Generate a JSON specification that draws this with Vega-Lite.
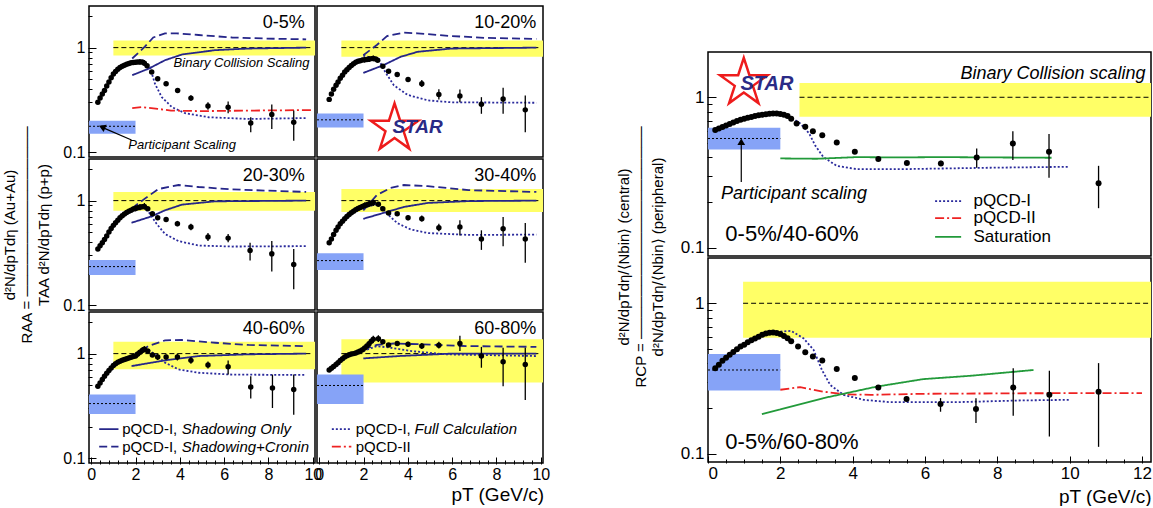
{
"$schema":"https://vega.github.io/schema/vega-lite/v6.json",
"background":"white",
"padding":{"left":2,"top":5,"right":0,"bottom":0},
"config":{"font":"Liberation Sans","view":{"stroke":"black","strokeWidth":1.5},"axis":{"grid":false,"domain":false,"tickColor":"black","labelColor":"black","titleColor":"black","labelOverlap":false,"titleFontWeight":"normal","tickWidth":1}},
"spacing":66,
"hconcat":[
{
"data":{"values":[
{"r":1,"c":1,"k":"Y","x":1,"x2":10.2,"y":0.84,"y2":1.17},
{"r":1,"c":1,"k":"U","x":1,"x2":10,"y":1},
{"r":1,"c":1,"k":"B","x":-0.1,"x2":2,"y":0.15,"y2":0.2},
{"r":1,"c":1,"k":"N","x":-0.1,"x2":2,"y":0.177},
{"r":1,"c":1,"k":"P","x":0.3,"y":0.3},{"r":1,"c":1,"k":"P","x":0.4,"y":0.33},{"r":1,"c":1,"k":"P","x":0.5,"y":0.36},{"r":1,"c":1,"k":"P","x":0.6,"y":0.39},{"r":1,"c":1,"k":"P","x":0.7,"y":0.43},{"r":1,"c":1,"k":"P","x":0.8,"y":0.47},{"r":1,"c":1,"k":"P","x":0.9,"y":0.515},{"r":1,"c":1,"k":"P","x":1.0,"y":0.56},{"r":1,"c":1,"k":"P","x":1.1,"y":0.59},{"r":1,"c":1,"k":"P","x":1.2,"y":0.62},{"r":1,"c":1,"k":"P","x":1.3,"y":0.645},{"r":1,"c":1,"k":"P","x":1.4,"y":0.665},{"r":1,"c":1,"k":"P","x":1.5,"y":0.68},{"r":1,"c":1,"k":"P","x":1.6,"y":0.695},{"r":1,"c":1,"k":"P","x":1.7,"y":0.705},{"r":1,"c":1,"k":"P","x":1.8,"y":0.715},{"r":1,"c":1,"k":"P","x":1.9,"y":0.72},{"r":1,"c":1,"k":"P","x":2.0,"y":0.725},{"r":1,"c":1,"k":"P","x":2.1,"y":0.73},{"r":1,"c":1,"k":"P","x":2.2,"y":0.73},{"r":1,"c":1,"k":"P","x":2.3,"y":0.73},{"r":1,"c":1,"k":"P","x":2.4,"y":0.71},{"r":1,"c":1,"k":"P","x":2.52,"y":0.67},{"r":1,"c":1,"k":"P","x":2.73,"y":0.585},{"r":1,"c":1,"k":"P","x":3.0,"y":0.505},{"r":1,"c":1,"k":"P","x":3.38,"y":0.452},{"r":1,"c":1,"k":"P","x":3.9,"y":0.39},{"r":1,"c":1,"k":"P","x":4.5,"y":0.329},{"r":1,"c":1,"k":"P","x":5.27,"y":0.276},{"r":1,"c":1,"k":"P","x":6.18,"y":0.269},{"r":1,"c":1,"k":"P","x":7.2,"y":0.19},{"r":1,"c":1,"k":"P","x":8.15,"y":0.229},{"r":1,"c":1,"k":"P","x":9.14,"y":0.193},
{"r":1,"c":1,"k":"E","x":2.0,"y":0.69,"y2":0.76},{"r":1,"c":1,"k":"E","x":2.2,"y":0.69,"y2":0.78},{"r":1,"c":1,"k":"E","x":2.4,"y":0.67,"y2":0.76},{"r":1,"c":1,"k":"E","x":3.38,"y":0.43,"y2":0.475},{"r":1,"c":1,"k":"E","x":3.9,"y":0.37,"y2":0.41},{"r":1,"c":1,"k":"E","x":4.5,"y":0.31,"y2":0.35},{"r":1,"c":1,"k":"E","x":5.27,"y":0.255,"y2":0.3},{"r":1,"c":1,"k":"E","x":6.18,"y":0.236,"y2":0.306},{"r":1,"c":1,"k":"E","x":7.2,"y":0.155,"y2":0.216},{"r":1,"c":1,"k":"E","x":8.15,"y":0.167,"y2":0.286},{"r":1,"c":1,"k":"E","x":9.14,"y":0.129,"y2":0.25},
{"r":1,"c":1,"k":"L","ln":"shad","s":"a","x":1.85,"y":0.545},{"r":1,"c":1,"k":"L","ln":"shad","s":"a","x":2.6,"y":0.63},{"r":1,"c":1,"k":"L","ln":"shad","s":"a","x":3.33,"y":0.758},{"r":1,"c":1,"k":"L","ln":"shad","s":"a","x":4.1,"y":0.86},{"r":1,"c":1,"k":"L","ln":"shad","s":"a","x":5.6,"y":0.946},{"r":1,"c":1,"k":"L","ln":"shad","s":"a","x":7.1,"y":0.98},{"r":1,"c":1,"k":"L","ln":"shad","s":"a","x":9.7,"y":1.0},
{"r":1,"c":1,"k":"L","ln":"cronin","s":"b","x":1.85,"y":0.787},{"r":1,"c":1,"k":"L","ln":"cronin","s":"b","x":2.42,"y":1.02},{"r":1,"c":1,"k":"L","ln":"cronin","s":"b","x":2.8,"y":1.25},{"r":1,"c":1,"k":"L","ln":"cronin","s":"b","x":3.33,"y":1.37},{"r":1,"c":1,"k":"L","ln":"cronin","s":"b","x":3.86,"y":1.37},{"r":1,"c":1,"k":"L","ln":"cronin","s":"b","x":4.85,"y":1.32},{"r":1,"c":1,"k":"L","ln":"cronin","s":"b","x":6.36,"y":1.25},{"r":1,"c":1,"k":"L","ln":"cronin","s":"b","x":7.9,"y":1.22},{"r":1,"c":1,"k":"L","ln":"cronin","s":"b","x":9.7,"y":1.2},
{"r":1,"c":1,"k":"L","ln":"full","s":"c","x":1.85,"y":0.705},{"r":1,"c":1,"k":"L","ln":"full","s":"c","x":2.42,"y":0.73},{"r":1,"c":1,"k":"L","ln":"full","s":"c","x":2.65,"y":0.65},{"r":1,"c":1,"k":"L","ln":"full","s":"c","x":2.88,"y":0.45},{"r":1,"c":1,"k":"L","ln":"full","s":"c","x":3.18,"y":0.337},{"r":1,"c":1,"k":"L","ln":"full","s":"c","x":3.64,"y":0.27},{"r":1,"c":1,"k":"L","ln":"full","s":"c","x":4.24,"y":0.236},{"r":1,"c":1,"k":"L","ln":"full","s":"c","x":5.3,"y":0.216},{"r":1,"c":1,"k":"L","ln":"full","s":"c","x":7.1,"y":0.208},{"r":1,"c":1,"k":"L","ln":"full","s":"c","x":9.7,"y":0.212},
{"r":1,"c":1,"k":"L","ln":"pqcd2","s":"d","x":1.85,"y":0.264},{"r":1,"c":1,"k":"L","ln":"pqcd2","s":"d","x":2.3,"y":0.27},{"r":1,"c":1,"k":"L","ln":"pqcd2","s":"d","x":3.0,"y":0.26},{"r":1,"c":1,"k":"L","ln":"pqcd2","s":"d","x":3.6,"y":0.25},{"r":1,"c":1,"k":"L","ln":"pqcd2","s":"d","x":5.0,"y":0.247},{"r":1,"c":1,"k":"L","ln":"pqcd2","s":"d","x":7.1,"y":0.25},{"r":1,"c":1,"k":"L","ln":"pqcd2","s":"d","x":10.0,"y":0.253},
{"r":1,"c":1,"k":"TC","x":9.64,"y":1.72,"t":"0-5%"},
{"r":1,"c":1,"k":"TIR","x":9.85,"y":0.705,"t":"Binary Collision Scaling"},
{"r":1,"c":1,"k":"TIC","x":4.1,"y":0.118,"t":"Participant Scaling"},
{"r":1,"c":1,"k":"A","x":1.82,"y":0.131,"x2":0.55,"y2":0.171},
{"r":1,"c":1,"k":"H","x":0.49,"y":0.174},

{"r":1,"c":2,"k":"Y","x":1,"x2":10.2,"y":0.82,"y2":1.17},
{"r":1,"c":2,"k":"U","x":1,"x2":10,"y":1},
{"r":1,"c":2,"k":"B","x":-0.1,"x2":2,"y":0.172,"y2":0.235},
{"r":1,"c":2,"k":"N","x":-0.1,"x2":2,"y":0.204},
{"r":1,"c":2,"k":"P","x":0.45,"y":0.32},{"r":1,"c":2,"k":"P","x":0.55,"y":0.36},{"r":1,"c":2,"k":"P","x":0.65,"y":0.4},{"r":1,"c":2,"k":"P","x":0.76,"y":0.436},{"r":1,"c":2,"k":"P","x":0.85,"y":0.47},{"r":1,"c":2,"k":"P","x":0.95,"y":0.51},{"r":1,"c":2,"k":"P","x":1.05,"y":0.545},{"r":1,"c":2,"k":"P","x":1.15,"y":0.585},{"r":1,"c":2,"k":"P","x":1.25,"y":0.615},{"r":1,"c":2,"k":"P","x":1.35,"y":0.645},{"r":1,"c":2,"k":"P","x":1.45,"y":0.675},{"r":1,"c":2,"k":"P","x":1.55,"y":0.7},{"r":1,"c":2,"k":"P","x":1.65,"y":0.725},{"r":1,"c":2,"k":"P","x":1.75,"y":0.74},{"r":1,"c":2,"k":"P","x":1.85,"y":0.75},{"r":1,"c":2,"k":"P","x":1.95,"y":0.76},{"r":1,"c":2,"k":"P","x":2.05,"y":0.765},{"r":1,"c":2,"k":"P","x":2.15,"y":0.77},{"r":1,"c":2,"k":"P","x":2.25,"y":0.775},{"r":1,"c":2,"k":"P","x":2.35,"y":0.785},{"r":1,"c":2,"k":"P","x":2.44,"y":0.787},{"r":1,"c":2,"k":"P","x":2.55,"y":0.78},{"r":1,"c":2,"k":"P","x":2.64,"y":0.758},{"r":1,"c":2,"k":"P","x":2.87,"y":0.664},{"r":1,"c":2,"k":"P","x":3.13,"y":0.594},{"r":1,"c":2,"k":"P","x":3.52,"y":0.552},{"r":1,"c":2,"k":"P","x":4.01,"y":0.495},{"r":1,"c":2,"k":"P","x":4.63,"y":0.452},{"r":1,"c":2,"k":"P","x":5.4,"y":0.357},{"r":1,"c":2,"k":"P","x":6.35,"y":0.344},{"r":1,"c":2,"k":"P","x":7.32,"y":0.287},{"r":1,"c":2,"k":"P","x":8.3,"y":0.322},{"r":1,"c":2,"k":"P","x":9.3,"y":0.254},
{"r":1,"c":2,"k":"E","x":2.05,"y":0.72,"y2":0.81},{"r":1,"c":2,"k":"E","x":2.25,"y":0.73,"y2":0.83},{"r":1,"c":2,"k":"E","x":2.44,"y":0.74,"y2":0.84},{"r":1,"c":2,"k":"E","x":4.01,"y":0.47,"y2":0.52},{"r":1,"c":2,"k":"E","x":4.63,"y":0.42,"y2":0.49},{"r":1,"c":2,"k":"E","x":5.4,"y":0.32,"y2":0.4},{"r":1,"c":2,"k":"E","x":6.35,"y":0.3,"y2":0.397},{"r":1,"c":2,"k":"E","x":7.32,"y":0.233,"y2":0.336},{"r":1,"c":2,"k":"E","x":8.3,"y":0.233,"y2":0.414},{"r":1,"c":2,"k":"E","x":9.3,"y":0.155,"y2":0.349},
{"r":1,"c":2,"k":"L","ln":"shad","s":"a","x":1.99,"y":0.573},{"r":1,"c":2,"k":"L","ln":"shad","s":"a","x":2.9,"y":0.68},{"r":1,"c":2,"k":"L","ln":"shad","s":"a","x":3.67,"y":0.816},{"r":1,"c":2,"k":"L","ln":"shad","s":"a","x":4.44,"y":0.912},{"r":1,"c":2,"k":"L","ln":"shad","s":"a","x":5.97,"y":0.98},{"r":1,"c":2,"k":"L","ln":"shad","s":"a","x":9.8,"y":1.0},
{"r":1,"c":2,"k":"L","ln":"cronin","s":"b","x":1.99,"y":0.847},{"r":1,"c":2,"k":"L","ln":"cronin","s":"b","x":2.6,"y":1.06},{"r":1,"c":2,"k":"L","ln":"cronin","s":"b","x":3.06,"y":1.29},{"r":1,"c":2,"k":"L","ln":"cronin","s":"b","x":3.82,"y":1.39},{"r":1,"c":2,"k":"L","ln":"cronin","s":"b","x":4.44,"y":1.37},{"r":1,"c":2,"k":"L","ln":"cronin","s":"b","x":5.97,"y":1.29},{"r":1,"c":2,"k":"L","ln":"cronin","s":"b","x":7.5,"y":1.24},{"r":1,"c":2,"k":"L","ln":"cronin","s":"b","x":9.8,"y":1.21},
{"r":1,"c":2,"k":"L","ln":"full","s":"c","x":1.99,"y":0.84},{"r":1,"c":2,"k":"L","ln":"full","s":"c","x":2.68,"y":0.77},{"r":1,"c":2,"k":"L","ln":"full","s":"c","x":2.98,"y":0.585},{"r":1,"c":2,"k":"L","ln":"full","s":"c","x":3.37,"y":0.436},{"r":1,"c":2,"k":"L","ln":"full","s":"c","x":3.98,"y":0.354},{"r":1,"c":2,"k":"L","ln":"full","s":"c","x":4.9,"y":0.313},{"r":1,"c":2,"k":"L","ln":"full","s":"c","x":5.97,"y":0.3},{"r":1,"c":2,"k":"L","ln":"full","s":"c","x":9.8,"y":0.297},
{"r":1,"c":2,"k":"TC","x":9.8,"y":1.72,"t":"10-20%"},
{"r":1,"c":2,"k":"S","x":3.4,"y":0.169},
{"r":1,"c":2,"k":"ST","x":4.44,"y":0.173,"t":"STAR"},

{"r":2,"c":1,"k":"Y","x":1,"x2":10.2,"y":0.8,"y2":1.21},
{"r":2,"c":1,"k":"U","x":1,"x2":10,"y":1},
{"r":2,"c":1,"k":"B","x":-0.1,"x2":2,"y":0.194,"y2":0.271},
{"r":2,"c":1,"k":"N","x":-0.1,"x2":2,"y":0.234},
{"r":2,"c":1,"k":"P","x":0.3,"y":0.345},{"r":2,"c":1,"k":"P","x":0.4,"y":0.37},{"r":2,"c":1,"k":"P","x":0.5,"y":0.395},{"r":2,"c":1,"k":"P","x":0.6,"y":0.425},{"r":2,"c":1,"k":"P","x":0.7,"y":0.46},{"r":2,"c":1,"k":"P","x":0.8,"y":0.5},{"r":2,"c":1,"k":"P","x":0.9,"y":0.54},{"r":2,"c":1,"k":"P","x":1.0,"y":0.58},{"r":2,"c":1,"k":"P","x":1.1,"y":0.615},{"r":2,"c":1,"k":"P","x":1.2,"y":0.65},{"r":2,"c":1,"k":"P","x":1.3,"y":0.685},{"r":2,"c":1,"k":"P","x":1.4,"y":0.715},{"r":2,"c":1,"k":"P","x":1.5,"y":0.745},{"r":2,"c":1,"k":"P","x":1.6,"y":0.77},{"r":2,"c":1,"k":"P","x":1.7,"y":0.79},{"r":2,"c":1,"k":"P","x":1.8,"y":0.81},{"r":2,"c":1,"k":"P","x":1.9,"y":0.83},{"r":2,"c":1,"k":"P","x":2.0,"y":0.84},{"r":2,"c":1,"k":"P","x":2.1,"y":0.855},{"r":2,"c":1,"k":"P","x":2.2,"y":0.865},{"r":2,"c":1,"k":"P","x":2.3,"y":0.875},{"r":2,"c":1,"k":"P","x":2.4,"y":0.88},{"r":2,"c":1,"k":"P","x":2.55,"y":0.838},{"r":2,"c":1,"k":"P","x":2.76,"y":0.75},{"r":2,"c":1,"k":"P","x":3.0,"y":0.686},{"r":2,"c":1,"k":"P","x":3.38,"y":0.66},{"r":2,"c":1,"k":"P","x":3.89,"y":0.6},{"r":2,"c":1,"k":"P","x":4.5,"y":0.56},{"r":2,"c":1,"k":"P","x":5.27,"y":0.448},{"r":2,"c":1,"k":"P","x":6.18,"y":0.438},{"r":2,"c":1,"k":"P","x":7.17,"y":0.333},{"r":2,"c":1,"k":"P","x":8.15,"y":0.31},{"r":2,"c":1,"k":"P","x":9.14,"y":0.245},
{"r":2,"c":1,"k":"E","x":2.0,"y":0.79,"y2":0.9},{"r":2,"c":1,"k":"E","x":2.2,"y":0.81,"y2":0.93},{"r":2,"c":1,"k":"E","x":2.4,"y":0.82,"y2":0.95},{"r":2,"c":1,"k":"E","x":3.38,"y":0.63,"y2":0.69},{"r":2,"c":1,"k":"E","x":3.89,"y":0.57,"y2":0.64},{"r":2,"c":1,"k":"E","x":4.5,"y":0.52,"y2":0.6},{"r":2,"c":1,"k":"E","x":5.27,"y":0.41,"y2":0.49},{"r":2,"c":1,"k":"E","x":6.18,"y":0.4,"y2":0.48},{"r":2,"c":1,"k":"E","x":7.17,"y":0.268,"y2":0.395},{"r":2,"c":1,"k":"E","x":8.15,"y":0.21,"y2":0.41},{"r":2,"c":1,"k":"E","x":9.14,"y":0.142,"y2":0.345},
{"r":2,"c":1,"k":"L","ln":"shad","s":"a","x":1.82,"y":0.614},{"r":2,"c":1,"k":"L","ln":"shad","s":"a","x":2.73,"y":0.708},{"r":2,"c":1,"k":"L","ln":"shad","s":"a","x":3.33,"y":0.808},{"r":2,"c":1,"k":"L","ln":"shad","s":"a","x":4.09,"y":0.915},{"r":2,"c":1,"k":"L","ln":"shad","s":"a","x":5.6,"y":0.985},{"r":2,"c":1,"k":"L","ln":"shad","s":"a","x":9.7,"y":1.0},
{"r":2,"c":1,"k":"L","ln":"cronin","s":"b","x":1.82,"y":0.838},{"r":2,"c":1,"k":"L","ln":"cronin","s":"b","x":2.42,"y":1.045},{"r":2,"c":1,"k":"L","ln":"cronin","s":"b","x":3.03,"y":1.29},{"r":2,"c":1,"k":"L","ln":"cronin","s":"b","x":3.94,"y":1.41},{"r":2,"c":1,"k":"L","ln":"cronin","s":"b","x":4.85,"y":1.35},{"r":2,"c":1,"k":"L","ln":"cronin","s":"b","x":6.36,"y":1.28},{"r":2,"c":1,"k":"L","ln":"cronin","s":"b","x":9.7,"y":1.21},
{"r":2,"c":1,"k":"L","ln":"full","s":"c","x":1.82,"y":0.85},{"r":2,"c":1,"k":"L","ln":"full","s":"c","x":2.35,"y":0.88},{"r":2,"c":1,"k":"L","ln":"full","s":"c","x":2.65,"y":0.75},{"r":2,"c":1,"k":"L","ln":"full","s":"c","x":2.95,"y":0.6},{"r":2,"c":1,"k":"L","ln":"full","s":"c","x":3.33,"y":0.48},{"r":2,"c":1,"k":"L","ln":"full","s":"c","x":3.94,"y":0.41},{"r":2,"c":1,"k":"L","ln":"full","s":"c","x":4.85,"y":0.372},{"r":2,"c":1,"k":"L","ln":"full","s":"c","x":6.36,"y":0.364},{"r":2,"c":1,"k":"L","ln":"full","s":"c","x":9.7,"y":0.367},
{"r":2,"c":1,"k":"TC","x":9.64,"y":1.72,"t":"20-30%"},

{"r":2,"c":2,"k":"Y","x":1,"x2":10.2,"y":0.78,"y2":1.29},
{"r":2,"c":2,"k":"U","x":1,"x2":10,"y":1},
{"r":2,"c":2,"k":"B","x":-0.1,"x2":2,"y":0.217,"y2":0.314},
{"r":2,"c":2,"k":"N","x":-0.1,"x2":2,"y":0.267},
{"r":2,"c":2,"k":"P","x":0.45,"y":0.395},{"r":2,"c":2,"k":"P","x":0.55,"y":0.43},{"r":2,"c":2,"k":"P","x":0.65,"y":0.475},{"r":2,"c":2,"k":"P","x":0.76,"y":0.52},{"r":2,"c":2,"k":"P","x":0.85,"y":0.56},{"r":2,"c":2,"k":"P","x":0.95,"y":0.6},{"r":2,"c":2,"k":"P","x":1.05,"y":0.635},{"r":2,"c":2,"k":"P","x":1.15,"y":0.67},{"r":2,"c":2,"k":"P","x":1.25,"y":0.705},{"r":2,"c":2,"k":"P","x":1.35,"y":0.735},{"r":2,"c":2,"k":"P","x":1.45,"y":0.765},{"r":2,"c":2,"k":"P","x":1.55,"y":0.79},{"r":2,"c":2,"k":"P","x":1.65,"y":0.82},{"r":2,"c":2,"k":"P","x":1.75,"y":0.84},{"r":2,"c":2,"k":"P","x":1.85,"y":0.86},{"r":2,"c":2,"k":"P","x":1.95,"y":0.88},{"r":2,"c":2,"k":"P","x":2.05,"y":0.9},{"r":2,"c":2,"k":"P","x":2.15,"y":0.915},{"r":2,"c":2,"k":"P","x":2.25,"y":0.93},{"r":2,"c":2,"k":"P","x":2.35,"y":0.945},{"r":2,"c":2,"k":"P","x":2.44,"y":0.957},{"r":2,"c":2,"k":"P","x":2.67,"y":0.923},{"r":2,"c":2,"k":"P","x":2.87,"y":0.838},{"r":2,"c":2,"k":"P","x":3.13,"y":0.76},{"r":2,"c":2,"k":"P","x":3.52,"y":0.75},{"r":2,"c":2,"k":"P","x":4.01,"y":0.686},{"r":2,"c":2,"k":"P","x":4.63,"y":0.67},{"r":2,"c":2,"k":"P","x":5.4,"y":0.55},{"r":2,"c":2,"k":"P","x":6.35,"y":0.56},{"r":2,"c":2,"k":"P","x":7.32,"y":0.43},{"r":2,"c":2,"k":"P","x":8.3,"y":0.538},{"r":2,"c":2,"k":"P","x":9.3,"y":0.43},
{"r":2,"c":2,"k":"E","x":2.05,"y":0.85,"y2":0.96},{"r":2,"c":2,"k":"E","x":2.25,"y":0.87,"y2":1.0},{"r":2,"c":2,"k":"E","x":2.44,"y":0.89,"y2":1.02},{"r":2,"c":2,"k":"E","x":4.01,"y":0.65,"y2":0.72},{"r":2,"c":2,"k":"E","x":4.63,"y":0.63,"y2":0.72},{"r":2,"c":2,"k":"E","x":5.4,"y":0.51,"y2":0.6},{"r":2,"c":2,"k":"E","x":6.35,"y":0.465,"y2":0.648},{"r":2,"c":2,"k":"E","x":7.32,"y":0.338,"y2":0.52},{"r":2,"c":2,"k":"E","x":8.3,"y":0.367,"y2":0.697},{"r":2,"c":2,"k":"E","x":9.3,"y":0.254,"y2":0.61},
{"r":2,"c":2,"k":"L","ln":"shad","s":"a","x":1.99,"y":0.67},{"r":2,"c":2,"k":"L","ln":"shad","s":"a","x":3.06,"y":0.78},{"r":2,"c":2,"k":"L","ln":"shad","s":"a","x":3.82,"y":0.87},{"r":2,"c":2,"k":"L","ln":"shad","s":"a","x":4.9,"y":0.95},{"r":2,"c":2,"k":"L","ln":"shad","s":"a","x":6.74,"y":0.99},{"r":2,"c":2,"k":"L","ln":"shad","s":"a","x":9.8,"y":1.0},
{"r":2,"c":2,"k":"L","ln":"cronin","s":"b","x":1.99,"y":0.808},{"r":2,"c":2,"k":"L","ln":"cronin","s":"b","x":2.6,"y":1.13},{"r":2,"c":2,"k":"L","ln":"cronin","s":"b","x":3.21,"y":1.32},{"r":2,"c":2,"k":"L","ln":"cronin","s":"b","x":3.82,"y":1.41},{"r":2,"c":2,"k":"L","ln":"cronin","s":"b","x":4.9,"y":1.375},{"r":2,"c":2,"k":"L","ln":"cronin","s":"b","x":6.74,"y":1.26},{"r":2,"c":2,"k":"L","ln":"cronin","s":"b","x":9.8,"y":1.21},
{"r":2,"c":2,"k":"L","ln":"full","s":"c","x":2.14,"y":0.87},{"r":2,"c":2,"k":"L","ln":"full","s":"c","x":2.67,"y":0.935},{"r":2,"c":2,"k":"L","ln":"full","s":"c","x":3.06,"y":0.75},{"r":2,"c":2,"k":"L","ln":"full","s":"c","x":3.52,"y":0.61},{"r":2,"c":2,"k":"L","ln":"full","s":"c","x":4.13,"y":0.53},{"r":2,"c":2,"k":"L","ln":"full","s":"c","x":4.9,"y":0.49},{"r":2,"c":2,"k":"L","ln":"full","s":"c","x":6.74,"y":0.47},{"r":2,"c":2,"k":"L","ln":"full","s":"c","x":9.8,"y":0.473},
{"r":2,"c":2,"k":"TC","x":9.8,"y":1.72,"t":"30-40%"},

{"r":3,"c":1,"k":"Y","x":1,"x2":10.2,"y":0.71,"y2":1.3},
{"r":3,"c":1,"k":"U","x":1,"x2":10,"y":1},
{"r":3,"c":1,"k":"B","x":-0.1,"x2":2,"y":0.265,"y2":0.406},
{"r":3,"c":1,"k":"N","x":-0.1,"x2":2,"y":0.333},
{"r":3,"c":1,"k":"P","x":0.3,"y":0.488},{"r":3,"c":1,"k":"P","x":0.4,"y":0.525},{"r":3,"c":1,"k":"P","x":0.5,"y":0.565},{"r":3,"c":1,"k":"P","x":0.6,"y":0.609},{"r":3,"c":1,"k":"P","x":0.7,"y":0.65},{"r":3,"c":1,"k":"P","x":0.8,"y":0.69},{"r":3,"c":1,"k":"P","x":0.9,"y":0.73},{"r":3,"c":1,"k":"P","x":1.0,"y":0.77},{"r":3,"c":1,"k":"P","x":1.1,"y":0.8},{"r":3,"c":1,"k":"P","x":1.2,"y":0.825},{"r":3,"c":1,"k":"P","x":1.3,"y":0.845},{"r":3,"c":1,"k":"P","x":1.4,"y":0.865},{"r":3,"c":1,"k":"P","x":1.5,"y":0.88},{"r":3,"c":1,"k":"P","x":1.6,"y":0.895},{"r":3,"c":1,"k":"P","x":1.7,"y":0.91},{"r":3,"c":1,"k":"P","x":1.8,"y":0.925},{"r":3,"c":1,"k":"P","x":1.9,"y":0.94},{"r":3,"c":1,"k":"P","x":2.0,"y":0.95},{"r":3,"c":1,"k":"P","x":2.1,"y":0.99},{"r":3,"c":1,"k":"P","x":2.2,"y":1.03},{"r":3,"c":1,"k":"P","x":2.3,"y":1.07},{"r":3,"c":1,"k":"P","x":2.4,"y":1.1},{"r":3,"c":1,"k":"P","x":2.55,"y":1.06},{"r":3,"c":1,"k":"P","x":2.76,"y":0.97},{"r":3,"c":1,"k":"P","x":3.0,"y":0.927},{"r":3,"c":1,"k":"P","x":3.38,"y":0.927},{"r":3,"c":1,"k":"P","x":3.89,"y":0.927},{"r":3,"c":1,"k":"P","x":4.5,"y":0.862},{"r":3,"c":1,"k":"P","x":5.27,"y":0.777},{"r":3,"c":1,"k":"P","x":6.18,"y":0.75},{"r":3,"c":1,"k":"P","x":7.2,"y":0.48},{"r":3,"c":1,"k":"P","x":8.18,"y":0.47},{"r":3,"c":1,"k":"P","x":9.14,"y":0.454},
{"r":3,"c":1,"k":"E","x":2.1,"y":0.93,"y2":1.05},{"r":3,"c":1,"k":"E","x":2.3,"y":1.0,"y2":1.15},{"r":3,"c":1,"k":"E","x":2.4,"y":1.03,"y2":1.18},{"r":3,"c":1,"k":"E","x":3.0,"y":0.87,"y2":0.99},{"r":3,"c":1,"k":"E","x":3.38,"y":0.88,"y2":0.98},{"r":3,"c":1,"k":"E","x":3.89,"y":0.86,"y2":1.0},{"r":3,"c":1,"k":"E","x":4.5,"y":0.8,"y2":0.93},{"r":3,"c":1,"k":"E","x":5.27,"y":0.72,"y2":0.84},{"r":3,"c":1,"k":"E","x":6.18,"y":0.63,"y2":0.86},{"r":3,"c":1,"k":"E","x":7.2,"y":0.372,"y2":0.609},{"r":3,"c":1,"k":"E","x":8.18,"y":0.302,"y2":0.63},{"r":3,"c":1,"k":"E","x":9.14,"y":0.26,"y2":0.63},
{"r":3,"c":1,"k":"L","ln":"shad","s":"a","x":1.82,"y":0.76},{"r":3,"c":1,"k":"L","ln":"shad","s":"a","x":3.33,"y":0.862},{"r":3,"c":1,"k":"L","ln":"shad","s":"a","x":4.85,"y":0.948},{"r":3,"c":1,"k":"L","ln":"shad","s":"a","x":7.1,"y":0.985},{"r":3,"c":1,"k":"L","ln":"shad","s":"a","x":9.7,"y":1.0},
{"r":3,"c":1,"k":"L","ln":"cronin","s":"b","x":1.82,"y":0.915},{"r":3,"c":1,"k":"L","ln":"cronin","s":"b","x":2.58,"y":1.18},{"r":3,"c":1,"k":"L","ln":"cronin","s":"b","x":3.33,"y":1.34},{"r":3,"c":1,"k":"L","ln":"cronin","s":"b","x":4.09,"y":1.35},{"r":3,"c":1,"k":"L","ln":"cronin","s":"b","x":5.6,"y":1.27},{"r":3,"c":1,"k":"L","ln":"cronin","s":"b","x":7.1,"y":1.21},{"r":3,"c":1,"k":"L","ln":"cronin","s":"b","x":9.7,"y":1.18},
{"r":3,"c":1,"k":"L","ln":"full","s":"c","x":1.82,"y":0.95},{"r":3,"c":1,"k":"L","ln":"full","s":"c","x":2.42,"y":1.14},{"r":3,"c":1,"k":"L","ln":"full","s":"c","x":2.88,"y":0.985},{"r":3,"c":1,"k":"L","ln":"full","s":"c","x":3.33,"y":0.82},{"r":3,"c":1,"k":"L","ln":"full","s":"c","x":3.94,"y":0.706},{"r":3,"c":1,"k":"L","ln":"full","s":"c","x":4.85,"y":0.656},{"r":3,"c":1,"k":"L","ln":"full","s":"c","x":6.36,"y":0.63},{"r":3,"c":1,"k":"L","ln":"full","s":"c","x":9.7,"y":0.625},
{"r":3,"c":1,"k":"L","ln":"shad","s":"la","x":0.36,"y":0.19},{"r":3,"c":1,"k":"L","ln":"shad","s":"la","x":1.23,"y":0.19},
{"r":3,"c":1,"k":"L","ln":"cronin","s":"lb","x":0.36,"y":0.129},{"r":3,"c":1,"k":"L","ln":"cronin","s":"lb","x":1.23,"y":0.129},
{"r":3,"c":1,"k":"TC","x":9.64,"y":1.71,"t":"40-60%"},
{"r":3,"c":1,"k":"TL","x":1.4,"y":0.19,"t":"pQCD-I,"},
{"r":3,"c":1,"k":"TLI","x":4.09,"y":0.19,"t":"Shadowing Only"},
{"r":3,"c":1,"k":"TL","x":1.4,"y":0.129,"t":"pQCD-I,"},
{"r":3,"c":1,"k":"TLI","x":4.09,"y":0.129,"t":"Shadowing+Cronin"},

{"r":3,"c":2,"k":"Y","x":1,"x2":10.2,"y":0.53,"y2":1.37},
{"r":3,"c":2,"k":"U","x":1,"x2":10,"y":1},
{"r":3,"c":2,"k":"B","x":-0.1,"x2":2,"y":0.33,"y2":0.632},
{"r":3,"c":2,"k":"N","x":-0.1,"x2":2,"y":0.496},
{"r":3,"c":2,"k":"P","x":0.45,"y":0.696},{"r":3,"c":2,"k":"P","x":0.55,"y":0.725},{"r":3,"c":2,"k":"P","x":0.65,"y":0.755},{"r":3,"c":2,"k":"P","x":0.76,"y":0.789},{"r":3,"c":2,"k":"P","x":0.85,"y":0.82},{"r":3,"c":2,"k":"P","x":0.95,"y":0.86},{"r":3,"c":2,"k":"P","x":1.05,"y":0.895},{"r":3,"c":2,"k":"P","x":1.15,"y":0.93},{"r":3,"c":2,"k":"P","x":1.25,"y":0.955},{"r":3,"c":2,"k":"P","x":1.35,"y":0.975},{"r":3,"c":2,"k":"P","x":1.45,"y":0.99},{"r":3,"c":2,"k":"P","x":1.55,"y":1.0},{"r":3,"c":2,"k":"P","x":1.65,"y":1.015},{"r":3,"c":2,"k":"P","x":1.75,"y":1.035},{"r":3,"c":2,"k":"P","x":1.85,"y":1.06},{"r":3,"c":2,"k":"P","x":1.95,"y":1.09},{"r":3,"c":2,"k":"P","x":2.05,"y":1.13},{"r":3,"c":2,"k":"P","x":2.15,"y":1.18},{"r":3,"c":2,"k":"P","x":2.25,"y":1.24},{"r":3,"c":2,"k":"P","x":2.35,"y":1.31},{"r":3,"c":2,"k":"P","x":2.44,"y":1.37},{"r":3,"c":2,"k":"P","x":2.67,"y":1.39},{"r":3,"c":2,"k":"P","x":2.87,"y":1.3},{"r":3,"c":2,"k":"P","x":3.13,"y":1.21},{"r":3,"c":2,"k":"P","x":3.52,"y":1.25},{"r":3,"c":2,"k":"P","x":4.01,"y":1.23},{"r":3,"c":2,"k":"P","x":4.63,"y":1.18},{"r":3,"c":2,"k":"P","x":5.4,"y":1.2},{"r":3,"c":2,"k":"P","x":6.35,"y":1.25},{"r":3,"c":2,"k":"P","x":7.32,"y":0.95},{"r":3,"c":2,"k":"P","x":8.3,"y":0.838},{"r":3,"c":2,"k":"P","x":9.3,"y":0.789},
{"r":3,"c":2,"k":"E","x":2.25,"y":1.16,"y2":1.32},{"r":3,"c":2,"k":"E","x":2.44,"y":1.27,"y2":1.48},{"r":3,"c":2,"k":"E","x":2.67,"y":1.29,"y2":1.5},{"r":3,"c":2,"k":"E","x":3.52,"y":1.19,"y2":1.31},{"r":3,"c":2,"k":"E","x":4.01,"y":1.16,"y2":1.3},{"r":3,"c":2,"k":"E","x":4.63,"y":1.11,"y2":1.26},{"r":3,"c":2,"k":"E","x":5.4,"y":1.12,"y2":1.3},{"r":3,"c":2,"k":"E","x":6.35,"y":1.06,"y2":1.48},{"r":3,"c":2,"k":"E","x":7.32,"y":0.733,"y2":1.16},{"r":3,"c":2,"k":"E","x":8.3,"y":0.488,"y2":1.14},{"r":3,"c":2,"k":"E","x":9.3,"y":0.36,"y2":1.14},
{"r":3,"c":2,"k":"L","ln":"shad","s":"a","x":1.99,"y":0.9},{"r":3,"c":2,"k":"L","ln":"shad","s":"a","x":3.67,"y":0.95},{"r":3,"c":2,"k":"L","ln":"shad","s":"a","x":5.97,"y":1.0},{"r":3,"c":2,"k":"L","ln":"shad","s":"a","x":9.8,"y":1.0},
{"r":3,"c":2,"k":"L","ln":"cronin","s":"b","x":1.99,"y":1.1},{"r":3,"c":2,"k":"L","ln":"cronin","s":"b","x":2.6,"y":1.21},{"r":3,"c":2,"k":"L","ln":"cronin","s":"b","x":3.37,"y":1.25},{"r":3,"c":2,"k":"L","ln":"cronin","s":"b","x":4.44,"y":1.23},{"r":3,"c":2,"k":"L","ln":"cronin","s":"b","x":6.74,"y":1.18},{"r":3,"c":2,"k":"L","ln":"cronin","s":"b","x":9.8,"y":1.16},
{"r":3,"c":2,"k":"L","ln":"full","s":"c","x":1.99,"y":1.06},{"r":3,"c":2,"k":"L","ln":"full","s":"c","x":2.6,"y":1.18},{"r":3,"c":2,"k":"L","ln":"full","s":"c","x":3.21,"y":1.14},{"r":3,"c":2,"k":"L","ln":"full","s":"c","x":4.13,"y":1.06},{"r":3,"c":2,"k":"L","ln":"full","s":"c","x":5.67,"y":0.985},{"r":3,"c":2,"k":"L","ln":"full","s":"c","x":9.8,"y":0.948},
{"r":3,"c":2,"k":"L","ln":"full","s":"lc","x":0.57,"y":0.19},{"r":3,"c":2,"k":"L","ln":"full","s":"lc","x":1.45,"y":0.19},
{"r":3,"c":2,"k":"L","ln":"pqcd2","s":"ld","x":0.57,"y":0.129},{"r":3,"c":2,"k":"L","ln":"pqcd2","s":"ld","x":1.45,"y":0.129},
{"r":3,"c":2,"k":"TC","x":9.8,"y":1.71,"t":"60-80%"},
{"r":3,"c":2,"k":"TL","x":1.65,"y":0.19,"t":"pQCD-I,"},
{"r":3,"c":2,"k":"TLI","x":4.3,"y":0.19,"t":"Full Calculation"},
{"r":3,"c":2,"k":"TL","x":1.65,"y":0.129,"t":"pQCD-II"}
]},
"facet":{
"row":{"field":"r","type":"ordinal","title":["\u00a0\u00a0\u00a0\u00a0\u00a0\u00a0\u00a0\u00a0\u00a0\u00a0\u00a0d²N/dpTdη  (Au+Au)","RAA = ────────────────","\u00a0\u00a0\u00a0\u00a0\u00a0\u00a0\u00a0\u00a0\u00a0\u00a0\u00a0TAA d²N/dpTdη  (p+p)"],"header":{"labels":false,"titleFontSize":15,"titleFontWeight":"normal","titleLineHeight":17,"titlePadding":0,"titleColor":"black","titleFont":"Liberation Sans"}},
"column":{"field":"c","type":"ordinal","title":"pT (GeV/c)","header":{"labels":false,"titleOrient":"bottom","titleAnchor":"end","titleFontSize":19,"titleFontWeight":"normal","titleColor":"black","titleFont":"Liberation Sans","titlePadding":-9}}},
"spacing":0,
"spec":{
"width":226,"height":151,
"encoding":{
"x":{"field":"x","type":"quantitative","scale":{"domain":[-0.1,10.1],"nice":false,"zero":false},"axis":{"values":[0,0.4,0.8,1.2,1.6,2,2.4,2.8,3.2,3.6,4,4.4,4.8,5.2,5.6,6,6.4,6.8,7.2,7.6,8,8.4,8.8,9.2,9.6,10],"labelExpr":"datum.value % 2 == 0 ? format(datum.value, 'd') : ''","tickSize":{"condition":{"test":"datum.value % 2 == 0","value":-7},"value":-4},"labelFontSize":16,"labelPadding":9,"title":null}},
"y":{"field":"y","type":"quantitative","scale":{"type":"log","domain":[0.09,2.5],"nice":false},"axis":{"values":[0.1,0.2,0.3,0.4,0.5,0.6,0.7,0.8,0.9,1,2],"labelExpr":"datum.value == 1 ? '1' : (datum.value == 0.1 ? '0.1' : '')","tickSize":{"condition":{"test":"datum.value == 1 || datum.value == 0.1","value":-8},"value":-4},"labelFontSize":16,"labelPadding":11,"title":null}}
},
"layer":[
{"transform":[{"filter":"datum.k=='Y'"}],"mark":{"type":"rect","color":"#ffff66","clip":true},"encoding":{"x2":{"field":"x2"},"y2":{"field":"y2"}}},
{"transform":[{"filter":"datum.k=='B'"}],"mark":{"type":"rect","color":"#86a3f7","clip":true},"encoding":{"x2":{"field":"x2"},"y2":{"field":"y2"}}},
{"transform":[{"filter":"datum.k=='U'"}],"mark":{"type":"rule","color":"black","strokeDash":[5,3],"strokeWidth":1},"encoding":{"x2":{"field":"x2"}}},
{"transform":[{"filter":"datum.k=='N'"}],"mark":{"type":"rule","color":"black","strokeDash":[2,2],"strokeWidth":1,"clip":true},"encoding":{"x2":{"field":"x2"}}},
{"transform":[{"filter":"datum.k=='L'"}],"mark":{"type":"line","strokeWidth":1.8,"clip":true},"encoding":{"color":{"field":"ln","type":"nominal","scale":{"domain":["shad","cronin","full","pqcd2","sat"],"range":["#262689","#262689","#2a2a9c","#ee2222","#229a3a"]},"legend":null},"strokeDash":{"field":"ln","type":"nominal","scale":{"domain":["shad","cronin","full","pqcd2","sat"],"range":[[1,0],[8,4],[2,2],[9,3,2,3],[1,0]]},"legend":null},"detail":{"field":"s"}}},
{"transform":[{"filter":"datum.k=='E'"}],"mark":{"type":"rule","color":"black","strokeWidth":1.3},"encoding":{"y2":{"field":"y2"}}},
{"transform":[{"filter":"datum.k=='P'"}],"mark":{"type":"circle","color":"black","size":30,"opacity":1},"encoding":{}},
{"transform":[{"filter":"datum.k=='A'"}],"mark":{"type":"rule","color":"black","strokeWidth":1.2},"encoding":{"x2":{"field":"x2"},"y2":{"field":"y2"}}},
{"transform":[{"filter":"datum.k=='H'"}],"mark":{"type":"point","shape":"triangle-up","filled":true,"color":"black","size":60,"angle":293,"opacity":1},"encoding":{}},
{"transform":[{"filter":"datum.k=='S'"}],"mark":{"type":"point","shape":"M0,-1L0.225,-0.309L0.951,-0.309L0.363,0.118L0.588,0.809L0,0.382L-0.588,0.809L-0.363,0.118L-0.951,-0.309L-0.225,-0.309Z","filled":false,"stroke":"#ee1c1c","strokeWidth":2.5,"size":2500,"opacity":1},"encoding":{}},
{"transform":[{"filter":"datum.k=='ST'"}],"mark":{"type":"text","fontSize":19,"fontWeight":"bold","fontStyle":"italic","color":"#2a2a86","align":"center","baseline":"middle"},"encoding":{"text":{"field":"t"}}},
{"transform":[{"filter":"datum.k=='TC'"}],"mark":{"type":"text","fontSize":18,"color":"black","align":"right","baseline":"middle"},"encoding":{"text":{"field":"t"}}},
{"transform":[{"filter":"datum.k=='TIR'"}],"mark":{"type":"text","fontSize":13,"fontStyle":"italic","color":"black","align":"right","baseline":"middle"},"encoding":{"text":{"field":"t"}}},
{"transform":[{"filter":"datum.k=='TIC'"}],"mark":{"type":"text","fontSize":13,"fontStyle":"italic","color":"black","align":"center","baseline":"middle"},"encoding":{"text":{"field":"t"}}},
{"transform":[{"filter":"datum.k=='TL'"}],"mark":{"type":"text","fontSize":15,"color":"black","align":"left","baseline":"middle"},"encoding":{"text":{"field":"t"}}},
{"transform":[{"filter":"datum.k=='TLI'"}],"mark":{"type":"text","fontSize":15,"fontStyle":"italic","color":"black","align":"left","baseline":"middle"},"encoding":{"text":{"field":"t"}}}
]
}
},
{
"spacing":0,
"vconcat":[
{"width":10,"height":45,"data":{"values":[{"a":1}]},"mark":{"type":"point","opacity":0},"encoding":{},"view":{"stroke":null}},
{
"data":{"values":[
{"r":1,"k":"Y","x":2.53,"x2":12.25,"y":0.741,"y2":1.246},
{"r":1,"k":"U","x":2.53,"x2":12.25,"y":1},
{"r":1,"k":"B","x":0,"x2":2,"y":0.45,"y2":0.626},
{"r":1,"k":"N","x":0,"x2":2,"y":0.532},
{"r":1,"k":"P","x":0.2,"y":0.605},{"r":1,"k":"P","x":0.3,"y":0.62},{"r":1,"k":"P","x":0.4,"y":0.635},{"r":1,"k":"P","x":0.5,"y":0.65},{"r":1,"k":"P","x":0.6,"y":0.665},{"r":1,"k":"P","x":0.7,"y":0.68},{"r":1,"k":"P","x":0.8,"y":0.695},{"r":1,"k":"P","x":0.9,"y":0.71},{"r":1,"k":"P","x":1.0,"y":0.72},{"r":1,"k":"P","x":1.1,"y":0.73},{"r":1,"k":"P","x":1.2,"y":0.74},{"r":1,"k":"P","x":1.3,"y":0.75},{"r":1,"k":"P","x":1.4,"y":0.758},{"r":1,"k":"P","x":1.5,"y":0.765},{"r":1,"k":"P","x":1.6,"y":0.772},{"r":1,"k":"P","x":1.7,"y":0.777},{"r":1,"k":"P","x":1.8,"y":0.78},{"r":1,"k":"P","x":1.9,"y":0.78},{"r":1,"k":"P","x":2.0,"y":0.775},{"r":1,"k":"P","x":2.1,"y":0.765},{"r":1,"k":"P","x":2.2,"y":0.75},{"r":1,"k":"P","x":2.3,"y":0.72},{"r":1,"k":"P","x":2.45,"y":0.669},{"r":1,"k":"P","x":2.69,"y":0.636},{"r":1,"k":"P","x":2.9,"y":0.595},{"r":1,"k":"P","x":3.16,"y":0.56},{"r":1,"k":"P","x":3.56,"y":0.5},{"r":1,"k":"P","x":4.06,"y":0.434},{"r":1,"k":"P","x":4.71,"y":0.388},{"r":1,"k":"P","x":5.5,"y":0.366},{"r":1,"k":"P","x":6.44,"y":0.363},{"r":1,"k":"P","x":7.43,"y":0.398},{"r":1,"k":"P","x":8.43,"y":0.493},{"r":1,"k":"P","x":9.43,"y":0.434},{"r":1,"k":"P","x":10.8,"y":0.268},
{"r":1,"k":"E","x":6.44,"y":0.35,"y2":0.378},{"r":1,"k":"E","x":7.43,"y":0.34,"y2":0.456},{"r":1,"k":"E","x":8.43,"y":0.382,"y2":0.595},{"r":1,"k":"E","x":9.43,"y":0.292,"y2":0.57},{"r":1,"k":"E","x":10.8,"y":0.183,"y2":0.35},
{"r":1,"k":"L","ln":"full","s":"c","x":1.8,"y":0.78},{"r":1,"k":"L","ln":"full","s":"c","x":2.2,"y":0.76},{"r":1,"k":"L","ln":"full","s":"c","x":2.55,"y":0.67},{"r":1,"k":"L","ln":"full","s":"c","x":2.8,"y":0.574},{"r":1,"k":"L","ln":"full","s":"c","x":2.96,"y":0.48},{"r":1,"k":"L","ln":"full","s":"c","x":3.19,"y":0.4},{"r":1,"k":"L","ln":"full","s":"c","x":3.56,"y":0.35},{"r":1,"k":"L","ln":"full","s":"c","x":4.1,"y":0.333},{"r":1,"k":"L","ln":"full","s":"c","x":5.5,"y":0.333},{"r":1,"k":"L","ln":"full","s":"c","x":7.8,"y":0.34},{"r":1,"k":"L","ln":"full","s":"c","x":10.0,"y":0.345},
{"r":1,"k":"L","ln":"sat","s":"e","x":2.0,"y":0.392},{"r":1,"k":"L","ln":"sat","s":"e","x":3.0,"y":0.39},{"r":1,"k":"L","ln":"sat","s":"e","x":4.1,"y":0.4},{"r":1,"k":"L","ln":"sat","s":"e","x":5.2,"y":0.398},{"r":1,"k":"L","ln":"sat","s":"e","x":6.4,"y":0.4},{"r":1,"k":"L","ln":"sat","s":"e","x":8.0,"y":0.398},{"r":1,"k":"L","ln":"sat","s":"e","x":9.5,"y":0.396},
{"r":1,"k":"L","ln":"full","s":"lc","x":6.28,"y":0.204},{"r":1,"k":"L","ln":"full","s":"lc","x":7.0,"y":0.204},
{"r":1,"k":"L","ln":"pqcd2","s":"ld","x":6.28,"y":0.157},{"r":1,"k":"L","ln":"pqcd2","s":"ld","x":7.0,"y":0.157},
{"r":1,"k":"L","ln":"sat","s":"le","x":6.28,"y":0.118},{"r":1,"k":"L","ln":"sat","s":"le","x":7.0,"y":0.118},
{"r":1,"k":"TIR","x":12.1,"y":1.42,"t":"Binary Collision scaling"},
{"r":1,"k":"TIC","x":2.38,"y":0.226,"t":"Participant scaling"},
{"r":1,"k":"A","x":0.92,"y":0.273,"x2":0.92,"y2":0.49},
{"r":1,"k":"H","x":0.92,"y":0.506},
{"r":1,"k":"S","x":0.99,"y":1.246},
{"r":1,"k":"ST","x":1.63,"y":1.23,"t":"STAR"},
{"r":1,"k":"TB","x":0.48,"y":0.123,"t":"0-5%/40-60%"},
{"r":1,"k":"TL","x":7.34,"y":0.204,"t":"pQCD-I"},
{"r":1,"k":"TL","x":7.34,"y":0.157,"t":"pQCD-II"},
{"r":1,"k":"TL","x":7.34,"y":0.118,"t":"Saturation"},

{"r":2,"k":"Y","x":0.97,"x2":12.25,"y":0.59,"y2":1.39},
{"r":2,"k":"U","x":0.97,"x2":12.25,"y":1},
{"r":2,"k":"B","x":0,"x2":2,"y":0.263,"y2":0.46},
{"r":2,"k":"N","x":0,"x2":2,"y":0.36},
{"r":2,"k":"P","x":0.2,"y":0.37},{"r":2,"k":"P","x":0.3,"y":0.39},{"r":2,"k":"P","x":0.4,"y":0.415},{"r":2,"k":"P","x":0.5,"y":0.435},{"r":2,"k":"P","x":0.6,"y":0.455},{"r":2,"k":"P","x":0.7,"y":0.475},{"r":2,"k":"P","x":0.8,"y":0.495},{"r":2,"k":"P","x":0.9,"y":0.515},{"r":2,"k":"P","x":1.0,"y":0.53},{"r":2,"k":"P","x":1.1,"y":0.55},{"r":2,"k":"P","x":1.2,"y":0.567},{"r":2,"k":"P","x":1.3,"y":0.583},{"r":2,"k":"P","x":1.4,"y":0.6},{"r":2,"k":"P","x":1.5,"y":0.617},{"r":2,"k":"P","x":1.6,"y":0.63},{"r":2,"k":"P","x":1.7,"y":0.637},{"r":2,"k":"P","x":1.8,"y":0.638},{"r":2,"k":"P","x":1.9,"y":0.635},{"r":2,"k":"P","x":2.0,"y":0.625},{"r":2,"k":"P","x":2.1,"y":0.605},{"r":2,"k":"P","x":2.2,"y":0.585},{"r":2,"k":"P","x":2.3,"y":0.56},{"r":2,"k":"P","x":2.49,"y":0.515},{"r":2,"k":"P","x":2.69,"y":0.472},{"r":2,"k":"P","x":2.9,"y":0.442},{"r":2,"k":"P","x":3.16,"y":0.416},{"r":2,"k":"P","x":3.56,"y":0.366},{"r":2,"k":"P","x":4.06,"y":0.319},{"r":2,"k":"P","x":4.71,"y":0.275},{"r":2,"k":"P","x":5.49,"y":0.231},{"r":2,"k":"P","x":6.43,"y":0.214},{"r":2,"k":"P","x":7.41,"y":0.198},{"r":2,"k":"P","x":8.44,"y":0.275},{"r":2,"k":"P","x":9.44,"y":0.246},{"r":2,"k":"P","x":10.8,"y":0.258},
{"r":2,"k":"E","x":5.49,"y":0.222,"y2":0.24},{"r":2,"k":"E","x":6.43,"y":0.19,"y2":0.234},{"r":2,"k":"E","x":7.41,"y":0.16,"y2":0.234},{"r":2,"k":"E","x":8.44,"y":0.179,"y2":0.37},{"r":2,"k":"E","x":9.44,"y":0.13,"y2":0.356},{"r":2,"k":"E","x":10.8,"y":0.111,"y2":0.4},
{"r":2,"k":"L","ln":"full","s":"c","x":2.0,"y":0.648},{"r":2,"k":"L","ln":"full","s":"c","x":2.3,"y":0.655},{"r":2,"k":"L","ln":"full","s":"c","x":2.64,"y":0.585},{"r":2,"k":"L","ln":"full","s":"c","x":2.92,"y":0.49},{"r":2,"k":"L","ln":"full","s":"c","x":3.15,"y":0.36},{"r":2,"k":"L","ln":"full","s":"c","x":3.38,"y":0.286},{"r":2,"k":"L","ln":"full","s":"c","x":3.75,"y":0.246},{"r":2,"k":"L","ln":"full","s":"c","x":4.3,"y":0.228},{"r":2,"k":"L","ln":"full","s":"c","x":5.04,"y":0.22},{"r":2,"k":"L","ln":"full","s":"c","x":6.9,"y":0.22},{"r":2,"k":"L","ln":"full","s":"c","x":8.7,"y":0.226},{"r":2,"k":"L","ln":"full","s":"c","x":10.0,"y":0.228},
{"r":2,"k":"L","ln":"pqcd2","s":"d","x":2.0,"y":0.266},{"r":2,"k":"L","ln":"pqcd2","s":"d","x":2.55,"y":0.277},{"r":2,"k":"L","ln":"pqcd2","s":"d","x":3.19,"y":0.258},{"r":2,"k":"L","ln":"pqcd2","s":"d","x":3.84,"y":0.248},{"r":2,"k":"L","ln":"pqcd2","s":"d","x":4.5,"y":0.246},{"r":2,"k":"L","ln":"pqcd2","s":"d","x":5.9,"y":0.25},{"r":2,"k":"L","ln":"pqcd2","s":"d","x":8.6,"y":0.252},{"r":2,"k":"L","ln":"pqcd2","s":"d","x":12.0,"y":0.253},
{"r":2,"k":"L","ln":"sat","s":"e","x":1.49,"y":0.183},{"r":2,"k":"L","ln":"sat","s":"e","x":3.19,"y":0.234},{"r":2,"k":"L","ln":"sat","s":"e","x":4.66,"y":0.279},{"r":2,"k":"L","ln":"sat","s":"e","x":5.95,"y":0.313},{"r":2,"k":"L","ln":"sat","s":"e","x":7.3,"y":0.33},{"r":2,"k":"L","ln":"sat","s":"e","x":9.0,"y":0.36},
{"r":2,"k":"TB","x":0.48,"y":0.12,"t":"0-5%/60-80%"}
]},
"facet":{"row":{"field":"r","type":"ordinal","title":["\u00a0\u00a0\u00a0\u00a0\u00a0\u00a0\u00a0\u00a0\u00a0\u00a0\u00a0\u00a0\u00a0\u00a0\u00a0\u00a0\u00a0\u00a0\u00a0\u00a0\u00a0\u00a0\u00a0\u00a0\u00a0d²N/dpTdη/⟨Nbin⟩ (central)","\u00a0\u00a0\u00a0\u00a0\u00a0\u00a0\u00a0\u00a0\u00a0\u00a0\u00a0\u00a0\u00a0RCP = ────────────────────","\u00a0\u00a0\u00a0\u00a0\u00a0\u00a0\u00a0\u00a0\u00a0\u00a0\u00a0\u00a0\u00a0\u00a0\u00a0\u00a0\u00a0\u00a0\u00a0\u00a0\u00a0\u00a0\u00a0\u00a0\u00a0d²N/dpTdη/⟨Nbin⟩ (peripheral)"],"header":{"labels":false,"titleFontSize":15,"titleFontWeight":"normal","titleLineHeight":17,"titlePadding":4,"titleColor":"black","titleFont":"Liberation Sans"}}},
"spacing":0,
"spec":{
"width":443,"height":204,
"encoding":{
"x":{"field":"x","type":"quantitative","scale":{"domain":[0,12.25],"nice":false,"zero":false},"axis":{"values":[0,0.5,1,1.5,2,2.5,3,3.5,4,4.5,5,5.5,6,6.5,7,7.5,8,8.5,9,9.5,10,10.5,11,11.5,12],"labelExpr":"datum.value % 2 == 0 ? format(datum.value, 'd') : ''","tickSize":{"condition":{"test":"datum.value % 2 == 0","value":-7},"value":-4},"labelFontSize":17,"labelPadding":9,"title":"pT (GeV/c)","titleAnchor":"end","titleFontSize":19,"titlePadding":3}},
"y":{"field":"y","type":"quantitative","scale":{"type":"log","domain":[0.088,2.0],"nice":false},"axis":{"values":[0.1,0.2,0.3,0.4,0.5,0.6,0.7,0.8,0.9,1],"labelExpr":"datum.value == 1 ? '1' : (datum.value == 0.1 ? '0.1' : '')","tickSize":{"condition":{"test":"datum.value == 1 || datum.value == 0.1","value":-9},"value":-5},"labelFontSize":17,"labelPadding":12,"title":null}}
},
"layer":[
{"transform":[{"filter":"datum.k=='Y'"}],"mark":{"type":"rect","color":"#ffff66","clip":true},"encoding":{"x2":{"field":"x2"},"y2":{"field":"y2"}}},
{"transform":[{"filter":"datum.k=='B'"}],"mark":{"type":"rect","color":"#86a3f7","clip":true},"encoding":{"x2":{"field":"x2"},"y2":{"field":"y2"}}},
{"transform":[{"filter":"datum.k=='U'"}],"mark":{"type":"rule","color":"black","strokeDash":[5,3],"strokeWidth":1,"clip":true},"encoding":{"x2":{"field":"x2"}}},
{"transform":[{"filter":"datum.k=='N'"}],"mark":{"type":"rule","color":"black","strokeDash":[2,2],"strokeWidth":1,"clip":true},"encoding":{"x2":{"field":"x2"}}},
{"transform":[{"filter":"datum.k=='L'"}],"mark":{"type":"line","strokeWidth":1.8,"clip":true},"encoding":{"color":{"field":"ln","type":"nominal","scale":{"domain":["shad","cronin","full","pqcd2","sat"],"range":["#262689","#262689","#2a2a9c","#ee2222","#229a3a"]},"legend":null},"strokeDash":{"field":"ln","type":"nominal","scale":{"domain":["shad","cronin","full","pqcd2","sat"],"range":[[1,0],[8,4],[2,2],[9,3,2,3],[1,0]]},"legend":null},"detail":{"field":"s"}}},
{"transform":[{"filter":"datum.k=='E'"}],"mark":{"type":"rule","color":"black","strokeWidth":1.3},"encoding":{"y2":{"field":"y2"}}},
{"transform":[{"filter":"datum.k=='P'"}],"mark":{"type":"circle","color":"black","size":36,"opacity":1},"encoding":{}},
{"transform":[{"filter":"datum.k=='A'"}],"mark":{"type":"rule","color":"black","strokeWidth":1.2},"encoding":{"x2":{"field":"x2"},"y2":{"field":"y2"}}},
{"transform":[{"filter":"datum.k=='H'"}],"mark":{"type":"point","shape":"triangle-up","filled":true,"color":"black","size":60,"opacity":1},"encoding":{}},
{"transform":[{"filter":"datum.k=='S'"}],"mark":{"type":"point","shape":"M0,-1L0.225,-0.309L0.951,-0.309L0.363,0.118L0.588,0.809L0,0.382L-0.588,0.809L-0.363,0.118L-0.951,-0.309L-0.225,-0.309Z","filled":false,"stroke":"#ee1c1c","strokeWidth":2.5,"size":2500,"opacity":1},"encoding":{}},
{"transform":[{"filter":"datum.k=='ST'"}],"mark":{"type":"text","fontSize":20,"fontWeight":"bold","fontStyle":"italic","color":"#2a2a86","align":"center","baseline":"middle"},"encoding":{"text":{"field":"t"}}},
{"transform":[{"filter":"datum.k=='TIR'"}],"mark":{"type":"text","fontSize":18,"fontStyle":"italic","color":"black","align":"right","baseline":"middle"},"encoding":{"text":{"field":"t"}}},
{"transform":[{"filter":"datum.k=='TIC'"}],"mark":{"type":"text","fontSize":18,"fontStyle":"italic","color":"black","align":"center","baseline":"middle"},"encoding":{"text":{"field":"t"}}},
{"transform":[{"filter":"datum.k=='TB'"}],"mark":{"type":"text","fontSize":22,"color":"black","align":"left","baseline":"middle"},"encoding":{"text":{"field":"t"}}},
{"transform":[{"filter":"datum.k=='TL'"}],"mark":{"type":"text","fontSize":17,"color":"black","align":"left","baseline":"middle"},"encoding":{"text":{"field":"t"}}}
]
}
}
]
}
]
}
